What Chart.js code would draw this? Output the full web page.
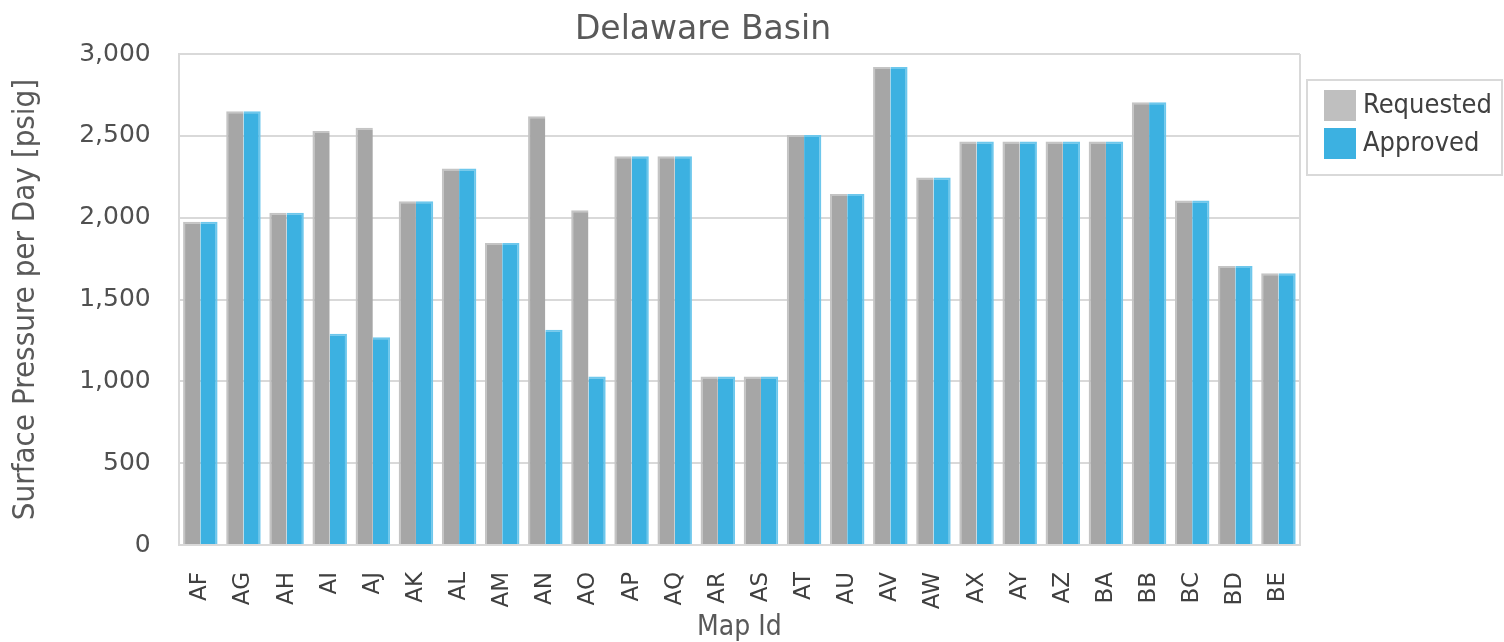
<!DOCTYPE html>
<html>
<head>
<meta charset="utf-8">
<script src="https://cdn.jsdelivr.net/npm/chart.js@4"></script>
<style>
html,body{margin:0;padding:0;background:#fff;}
#wrap{width:1504px;height:642px;position:relative;}
</style>
</head>
<body>
<div id="wrap"><canvas id="c" width="1504" height="642"></canvas></div>
<script>
const categories = ["AF","AG","AH","AI","AJ","AK","AL","AM","AN","AO","AP","AQ","AR","AS","AT","AU","AV","AW","AX","AY","AZ","BA","BB","BC","BD","BE"];
const requested = [1975,2650,2030,2530,2550,2100,2300,1845,2620,2045,2375,2375,1030,1030,2505,2145,2920,2245,2465,2465,2465,2465,2705,2105,1705,1660];
const approved  = [1975,2650,2030,1290,1270,2100,2300,1845,1315,1030,2375,2375,1030,1030,2505,2145,2920,2245,2465,2465,2465,2465,2705,2105,1705,1660];
const yTicks = [0,500,1000,1500,2000,2500,3000];
const chartTitle = 'Delaware Basin';

const FONT = "'DejaVu Sans', sans-serif";
const CFONT = "'DejaVu Sans Condensed', 'DejaVu Sans', sans-serif";

const frame = {
  id:'frame',
  afterDraw(chart){
    const ctx = chart.ctx, a = chart.chartArea;
    ctx.save();
    ctx.strokeStyle = '#d9d9d9';
    ctx.lineWidth = 2;
    ctx.beginPath();
    ctx.moveTo(a.right, a.top); ctx.lineTo(a.right, a.bottom);
    ctx.stroke();
    // title
    ctx.fillStyle = '#595959';
    ctx.font = "33px " + FONT;
    ctx.textAlign = 'center';
    ctx.textBaseline = 'middle';
    ctx.fillText(chartTitle, 703, 30);
    // legend
    ctx.textAlign = 'left';
    const lx = 1307, ly = 80, lw = 195, lh = 95;
    ctx.strokeStyle = '#d9d9d9';
    ctx.strokeRect(lx, ly, lw, lh);
    const items = [
      {label: chart.data.datasets[0].label, fill:'#bfbfbf'},
      {label: chart.data.datasets[1].label, fill:'#3cb1e1'}
    ];
    ctx.font = "27px " + CFONT;
    items.forEach((it,i)=>{
      const y = ly + 10 + i*38;
      ctx.fillStyle = it.fill;
      ctx.fillRect(lx+17, y, 32, 31);
      ctx.fillStyle = '#404040';
      ctx.fillText(it.label, lx+56, y+16);
    });
    ctx.restore();
  }
};

new Chart(document.getElementById('c'), {
  type:'bar',
  data:{
    labels: categories,
    datasets:[
      {label:'Requested', data:requested, backgroundColor:'#a6a6a6', borderColor:'#c4c4c4', borderWidth:{left:2,top:2,right:0,bottom:0}, borderSkipped:false},
      {label:'Approved', data:approved, backgroundColor:'#3cb1e1', borderColor:'#6dc7ec', borderWidth:{left:0,top:2,right:2,bottom:0}, borderSkipped:false}
    ]
  },
  options:{
    responsive:false,
    animation:false,
    devicePixelRatio:1,
    layout:{padding:{left:7,right:204,top:54,bottom:0}},
    datasets:{bar:{categoryPercentage:0.8,barPercentage:1.0}},
    plugins:{
      legend:{display:false},
      tooltip:{enabled:false},
      title:{display:false}
    },
    scales:{
      x:{
        afterFit(s){ s.height = 97; },
        grid:{display:false},
        border:{display:true,color:'#d9d9d9',width:2},
        ticks:{color:'#404040',font:{family:FONT,size:23},minRotation:90,maxRotation:90,padding:19},
        title:{display:true,text:'Map Id',color:'#595959',font:{family:CFONT,size:28,lineHeight:1.0},padding:{top:0,bottom:0}}
      },
      y:{
        min:0,max:3000,
        afterBuildTicks(s){ s.ticks = yTicks.map(v=>({value:v})); },
        grid:{color:'#d9d9d9',lineWidth:2,drawTicks:false},
        border:{display:true,color:'#d9d9d9',width:2},
        ticks:{color:'#505050',font:{family:FONT,size:25},padding:28,callback:v=>v.toLocaleString('en-US')},
        title:{display:true,text:'Surface Pressure per Day [psig]',color:'#595959',font:{family:CFONT,size:31},padding:{top:0,bottom:7}}
      }
    }
  },
  plugins:[frame]
});
</script>
</body>
</html>
